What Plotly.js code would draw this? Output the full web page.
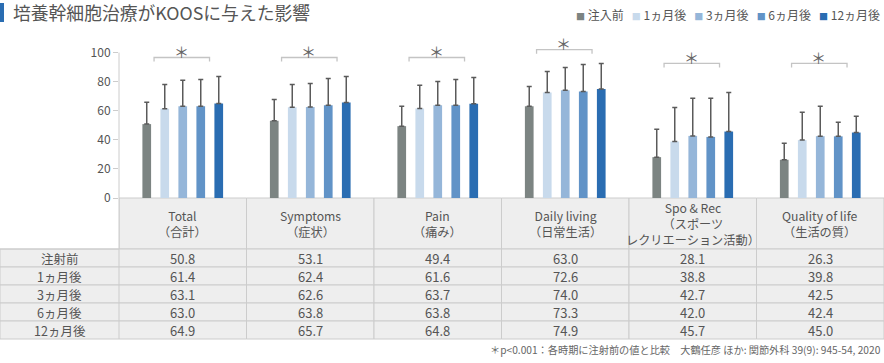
<!DOCTYPE html>
<html>
<head>
<meta charset="utf-8">
<script src="https://cdn.plot.ly/plotly-3.0.1.min.js"></script>
<style>html,body{margin:0;padding:0;background:#fff;}#chart{width:884px;height:363px;}</style>
</head>
<body>
<div id="chart"></div>
<script>
// ---- data ----
const categories = ['Total', 'Symptoms', 'Pain', 'Daily living', 'Spo & Rec', 'Quality of life'];
const categoryLabels = ['Total<br>（合計）', 'Symptoms<br>（症状）', 'Pain<br>（痛み）', 'Daily living<br>（日常生活）', 'Spo & Rec<br>（スポーツ<br>レクリエーション活動）', 'Quality of life<br>（生活の質）'];
const legendNames = ['注入前', '1ヵ月後', '3ヵ月後', '6ヵ月後', '12ヵ月後'];
const rowLabels = ['注射前', '1ヵ月後', '3ヵ月後', '6ヵ月後', '12ヵ月後'];

const preValues = [50.8, 53.1, 49.4, 63.0, 28.1, 26.3];
const m1Values  = [61.4, 62.4, 61.6, 72.6, 38.8, 39.8];
const m3Values  = [63.1, 62.6, 63.7, 74.0, 42.7, 42.5];
const m6Values  = [63.0, 63.8, 63.8, 73.3, 42.0, 42.4];
const m12Values = [64.9, 65.7, 64.8, 74.9, 45.7, 45.0];

const preSD = [15.0, 14.7, 13.6, 13.7, 19.2, 11.4];
const m1SD  = [16.7, 15.7, 16.0, 14.4, 23.5, 19.1];
const m3SD  = [17.9, 16.2, 16.4, 15.7, 25.8, 20.5];
const m6SD  = [18.5, 18.4, 17.7, 18.5, 26.5, 9.7];
const m12SD = [18.7, 17.9, 18.1, 17.6, 26.9, 11.2];

const yTicks = [0, 20, 40, 60, 80, 100];
const titleText = '培養幹細胞治療がKOOSに与えた影響';
const footnoteText = '＊p&lt;0.001：各時期に注射前の値と比較　大鶴任彦 ほか: 関節外科 39(9): 945-54, 2020';
const sigMark = '＊';

// ---- styles / layout ----
const colors = ['#7c8482', '#c8daec', '#95b6d9', '#6193c7', '#2a6db2'];
const valueSets = [preValues, m1Values, m3Values, m6Values, m12Values];
const sdSets = [preSD, m1SD, m3SD, m6SD, m12SD];
const sigLevel = [96.6, 96.6, 96.6, 102, 92.5, 92.5];

const W = 884, H = 363;
const mL = 119, mR = 0, mT = 38, mB = 165;
const plotW = W - mL - mR, plotH = H - mT - mB;
const px = p => (p - mL) / plotW;        // pixel x -> paper x
const py = p => (H - mB - p) / plotH;    // pixel y -> paper y
const FONT = '"Noto Sans CJK JP", "Noto Sans", sans-serif';
const TXT = '#555555';
const GRID = '#cccccc';
const CELL = '#eeeeee';

const traces = valueSets.map((vals, k) => ({
  type: 'bar',
  name: legendNames[k],
  x: categories,
  y: vals,
  marker: {color: colors[k], line: {width: 0}},
  error_y: {
    type: 'data', symmetric: false, array: sdSets[k],
    arrayminus: vals.map(() => 0),
    color: '#5a5a5a', thickness: 1.5, width: 2.5
  },
  hoverinfo: 'skip',
  showlegend: false
}));

const shapes = [];
const annotations = [];

// title bar
shapes.push({type: 'rect', xref: 'paper', yref: 'paper', x0: px(0), x1: px(4), y0: py(22), y1: py(3),
  fillcolor: '#2a6db2', line: {width: 0}});
annotations.push({xref: 'paper', yref: 'paper', x: px(11), y: py(12.5), xanchor: 'left', yanchor: 'middle',
  text: titleText, showarrow: false, font: {family: FONT, size: 17.8, color: TXT}});

// legend (built from names and colors)
const legendText = legendNames.map((n, k) =>
  '<span style="color:' + colors[k] + ';font-size:9px">■</span> ' + n).join('\u00a0\u00a0\u00a0');
annotations.push({xref: 'paper', yref: 'paper', x: px(882), y: py(14), xanchor: 'right', yanchor: 'middle',
  text: legendText, showarrow: false, font: {family: FONT, size: 12, color: TXT}});

// y axis line
shapes.push({type: 'line', xref: 'paper', yref: 'y', x0: 0, x1: 0, y0: 0, y1: yTicks[yTicks.length - 1],
  line: {color: GRID, width: 1}});

// significance brackets
categories.forEach((c, i) => {
  const y = sigLevel[i];
  shapes.push({type: 'path', xref: 'x', yref: 'y',
    path: `M ${i - 0.225},${y - 2.8} L ${i - 0.225},${y} L ${i + 0.21},${y} L ${i + 0.21},${y - 2.8}`,
    line: {color: '#c4c4c4', width: 1.3}});
  annotations.push({xref: 'x', yref: 'y', x: i - 0.01, y: y + 4.2, text: sigMark, showarrow: false,
    xanchor: 'center', yanchor: 'middle', font: {family: FONT, size: 15, color: '#666'}});
});

// table: header row
const headTop = 198, headBot = 249, rowH = 18;
categories.forEach((c, i) => {
  shapes.push({type: 'rect', xref: 'x', yref: 'paper', x0: i - 0.5, x1: i + 0.5, y0: py(headBot), y1: py(headTop),
    fillcolor: CELL, line: {color: GRID, width: 1}, layer: 'below'});
  annotations.push({xref: 'x', yref: 'paper', x: i, y: py((headTop + headBot) / 2), xanchor: 'center', yanchor: 'middle',
    text: categoryLabels[i], showarrow: false, font: {family: FONT, size: 12.2, color: TXT}});
});
// table rows
rowLabels.forEach((lab, r) => {
  const t = headBot + r * rowH, b = t + rowH;
  shapes.push({type: 'rect', xref: 'paper', yref: 'paper', x0: px(0), x1: 0, y0: py(b), y1: py(t),
    fillcolor: CELL, line: {color: GRID, width: 1}, layer: 'below'});
  annotations.push({xref: 'paper', yref: 'paper', x: px(mL / 2), y: py(t + rowH / 2), xanchor: 'center', yanchor: 'middle',
    text: lab, showarrow: false, font: {family: FONT, size: 12.5, color: TXT}});
  categories.forEach((c, i) => {
    shapes.push({type: 'rect', xref: 'x', yref: 'paper', x0: i - 0.5, x1: i + 0.5, y0: py(b), y1: py(t),
      fillcolor: CELL, line: {color: GRID, width: 1}, layer: 'below'});
    annotations.push({xref: 'x', yref: 'paper', x: i, y: py(t + rowH / 2), xanchor: 'center', yanchor: 'middle',
      text: valueSets[r][i].toFixed(1), showarrow: false, font: {family: FONT, size: 13, color: TXT}});
  });
});
// header bottom line across the blank left cell
shapes.push({type: 'line', xref: 'paper', yref: 'paper', x0: px(0), x1: 0, y0: py(headBot), y1: py(headBot),
  line: {color: GRID, width: 1}});
shapes.push({type: 'line', xref: 'paper', yref: 'paper', x0: 0, x1: 0, y0: py(headBot), y1: py(headTop),
  line: {color: GRID, width: 1}});

// footnote
annotations.push({xref: 'paper', yref: 'paper', x: px(883), y: py(349), xanchor: 'right', yanchor: 'middle',
  text: footnoteText, showarrow: false, font: {family: FONT, size: 10.2, color: '#666'}});

const layout = {
  width: W, height: H,
  margin: {l: mL, r: mR, t: mT, b: mB, pad: 0},
  paper_bgcolor: '#ffffff', plot_bgcolor: '#ffffff',
  font: {family: FONT, color: TXT},
  barmode: 'group', bargap: 0.294, bargroupgap: 0.517,
  showlegend: false,
  xaxis: {type: 'category', range: [-0.5, categories.length - 0.5], showticklabels: false, ticks: '',
    showgrid: false, zeroline: false, showline: false, fixedrange: true},
  yaxis: {range: [0, 110], tickvals: yTicks, ticks: 'outside', ticklen: 5, tickcolor: GRID, tickwidth: 1,
    tickfont: {family: FONT, size: 12, color: TXT}, showgrid: false, zeroline: false, showline: false,
    fixedrange: true},
  shapes: shapes,
  annotations: annotations
};

Plotly.newPlot('chart', traces, layout, {staticPlot: true, displayModeBar: false});
</script>
</body>
</html>
